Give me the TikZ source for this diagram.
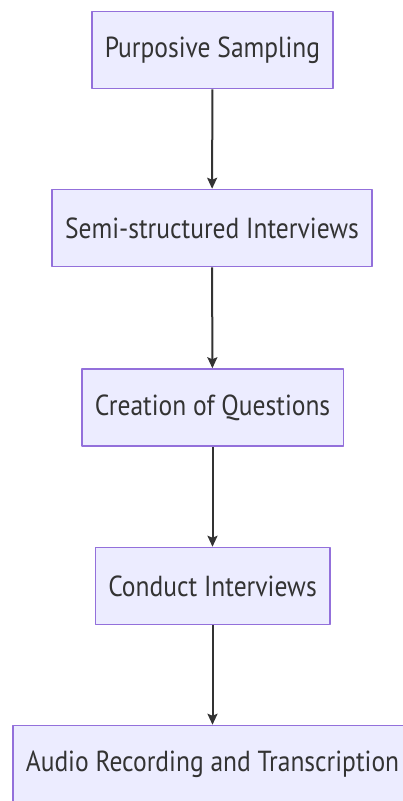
\documentclass[tikz,border=0pt]{standalone}
\usepackage{fontspec}
\usetikzlibrary{arrows.meta}
\newfontfamily\stepfont[FakeStretch=0.88]{PT Sans}
\definecolor{boxfill}{HTML}{ECECFF}
\definecolor{boxline}{HTML}{9370DB}
\definecolor{textgray}{HTML}{333333}
\definecolor{arrowgray}{HTML}{333333}
\tikzset{
  stepbox/.style={draw=boxline, fill=boxfill, line width=1.5pt, minimum height=77pt, inner xsep=13pt, text=textgray},
  flow/.style={->, draw=arrowgray, line width=2pt}
}
\begin{document}
\begin{tikzpicture}[x=1pt,y=-1pt,>={Stealth[length=11pt,width=10pt,inset=2pt]}, font=\stepfont\fontsize{29}{34}\selectfont, line join=round]
\useasboundingbox (0,0) rectangle (403,801);
% steps, top to bottom
\node[stepbox] (sampling) at (212.5,50) {Purposive Sampling};
\node[stepbox] (semi) at (212,228) {Semi-structured Interviews};
\node[stepbox] (questions) at (212.5,407.5) {Creation of Questions};
\node[stepbox] (conduct) at (212.5,586) {Conduct Interviews};
\node[stepbox] (audio) at (212.5,764) {Audio Recording and Transcription};
% arrows
\foreach \a/\b in {sampling/semi,semi/questions,questions/conduct,conduct/audio}
  \draw[flow] (\a) -- (\b);
\end{tikzpicture}
\end{document}
